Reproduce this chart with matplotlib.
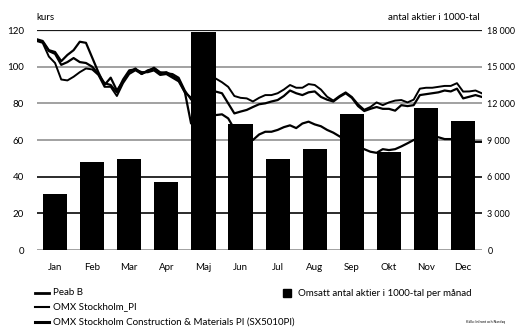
import numpy as np
import matplotlib
matplotlib.use("Agg")
import matplotlib.pyplot as plt
from matplotlib.lines import Line2D
from matplotlib.patches import Rectangle

plt.rcParams['font.family'] = ['Lato', 'DejaVu Sans']

# --- data ---
months = ["Jan", "Feb", "Mar", "Apr", "Maj", "Jun",
          "Jul", "Aug", "Sep", "Okt", "Nov", "Dec"]

# traded shares per month, thousands
volume = [4600, 7230, 7450, 5550, 17850, 10300,
          7480, 8250, 11150, 8050, 11650, 10550]

# share price / index levels, sampled every 1/6 month from 1 Jan to 31 Dec
peab = [115.0, 114.0, 109.0, 108.0, 103.0, 106.4, 109.0, 113.6, 113.0, 105.0,
        97.0, 90.0, 94.0, 87.0, 92.0, 97.0, 99.0, 96.0, 98.0, 99.0,
        96.5, 97.0, 95.0, 93.0, 86.0, 69.0, 70.0, 72.0, 73.0, 73.6,
        74.0, 71.8, 66.0, 62.0, 60.0, 60.0, 63.0, 64.5, 64.5, 65.5,
        67.0, 68.0, 66.5, 69.0, 70.0, 68.5, 67.5, 65.5, 64.0, 62.0,
        60.0, 58.0, 56.0, 55.0, 53.6, 53.0, 55.0, 54.5, 55.0, 56.5,
        58.2, 60.0, 61.0, 61.5, 62.0, 61.5, 60.5, 60.5, 60.0, 59.5,
        59.0, 59.0, 59.0]

omx_pi = [114.0, 113.0, 105.5, 102.0, 93.0, 92.5, 94.5, 97.0, 99.0, 98.5,
          95.5, 89.0, 89.0, 84.0, 91.0, 96.0, 98.0, 96.0, 97.5, 99.5,
          97.0, 96.5, 96.0, 94.0, 87.0, 82.0, 88.0, 91.0, 93.0, 93.5,
          91.5, 89.0, 84.0, 83.0, 82.7, 81.0, 83.0, 84.5, 84.5, 85.5,
          87.5, 90.0, 88.5, 88.5, 90.5, 90.0, 87.5, 83.6, 81.5, 84.0,
          86.0, 83.5, 79.5, 76.5, 78.0, 80.5, 79.0, 80.5, 81.5, 81.8,
          80.5, 82.0, 88.0, 88.5, 88.5, 89.0, 89.5, 89.5, 91.0, 86.4,
          86.5, 87.0, 85.5]

sx5010 = [114.5, 113.5, 108.5, 107.0, 101.0, 102.5, 104.7, 102.5, 102.0, 100.0,
          96.0, 91.0, 90.0, 86.0, 93.0, 98.0, 98.5, 97.0, 97.0, 98.0,
          95.5, 96.0, 94.0, 92.0, 86.0, 83.0, 84.0, 85.0, 86.0, 86.4,
          85.5, 80.0, 74.5, 75.5, 76.4, 78.0, 79.5, 80.0, 81.0, 81.8,
          84.0, 87.0, 85.5, 84.5, 86.0, 86.5, 83.5, 82.0, 81.0, 83.5,
          85.5, 83.0, 78.5, 75.8, 77.0, 78.0, 77.0, 77.0, 76.0, 79.0,
          78.5, 79.0, 84.5, 85.0, 85.5, 86.0, 87.0, 86.5, 88.0, 82.7,
          83.6, 84.5, 83.5]

left_ticks = [0, 20, 40, 60, 80, 100, 120]
right_ticks = [0, 3000, 6000, 9000, 12000, 15000, 18000]

# --- figure ---
fig = plt.figure(figsize=(5.15, 3.27), dpi=100)
ax = fig.add_axes([36.5 / 515, 1 - 250 / 327, 445.2 / 515, 220 / 327])
ax2 = ax.twinx()
# volume bars sit in front of the price lines
ax2.set_zorder(ax.get_zorder() + 1)
ax2.patch.set_visible(False)

t = np.linspace(0, 12, len(peab))
ax.set_xlim(0, 12)
ax.set_ylim(0, 120)
ax2.set_ylim(0, 18000)

# horizontal grid
dark = ["#1a1a1a" if v in (20, 40, 120) else "#9a9a9a" for v in left_ticks]
for v, c in zip(left_ticks, dark):
    ax.axhline(v, color=c, lw=1.6 if v == 120 else 1.3, zorder=1)

ax.plot(t, peab, color="black", lw=1.6, zorder=3)
ax.plot(t, omx_pi, color="black", lw=1.4, zorder=3)
ax.plot(t, sx5010, color="black", lw=1.6, zorder=3)

ax2.bar(np.arange(12) + 0.5, volume, width=0.65, color="black", zorder=3)

for a in (ax, ax2):
    for s in a.spines.values():
        s.set_visible(False)
    a.tick_params(length=0)

ax.set_xticks(np.arange(12) + 0.5)
ax.set_xticklabels(months, fontsize=7)
ax.tick_params(axis="x", pad=9)
ax.set_yticks(left_ticks)
ax.set_yticklabels([str(v) for v in left_ticks], fontsize=7)
ax.tick_params(axis="y", pad=9)
ax2.set_yticks(right_ticks)
ax2.set_yticklabels([f"{v:,}".replace(",", " ") for v in right_ticks], fontsize=6.4)
ax2.tick_params(axis="y", pad=4)

fig.text(36 / 515, 1 - 17 / 327, "kurs", fontsize=7, va="center", ha="left")
fig.text(480 / 515, 1 - 17 / 327, "antal aktier i 1000-tal", fontsize=7,
         va="center", ha="right")

# legend
rows = [("Peab B", 2.0), ("OMX Stockholm_PI", 1.5),
        ("OMX Stockholm Construction & Materials PI (SX5010PI)", 2.2)]
for i, (label, lw) in enumerate(rows):
    y = 1 - (292.5 + 14.6 * i) / 327
    fig.add_artist(Line2D([35 / 515, 49 / 515], [y, y], color="black", lw=lw,
                          transform=fig.transFigure))
    fig.text(53 / 515, y, label, fontsize=7, va="center", ha="left")

fig.add_artist(Rectangle((283 / 515, 1 - 297 / 327), 8 / 515, 8 / 327,
                         color="black", transform=fig.transFigure))
fig.text(298 / 515, 1 - 293 / 327, "Omsatt antal aktier i 1000-tal per månad",
         fontsize=7, va="center", ha="left")

fig.text(505 / 515, 1 - 322 / 327, "Källa: Infront och Nasdaq", fontsize=2.5,
         va="center", ha="right")

fig.savefig("out.png", dpi=100)
